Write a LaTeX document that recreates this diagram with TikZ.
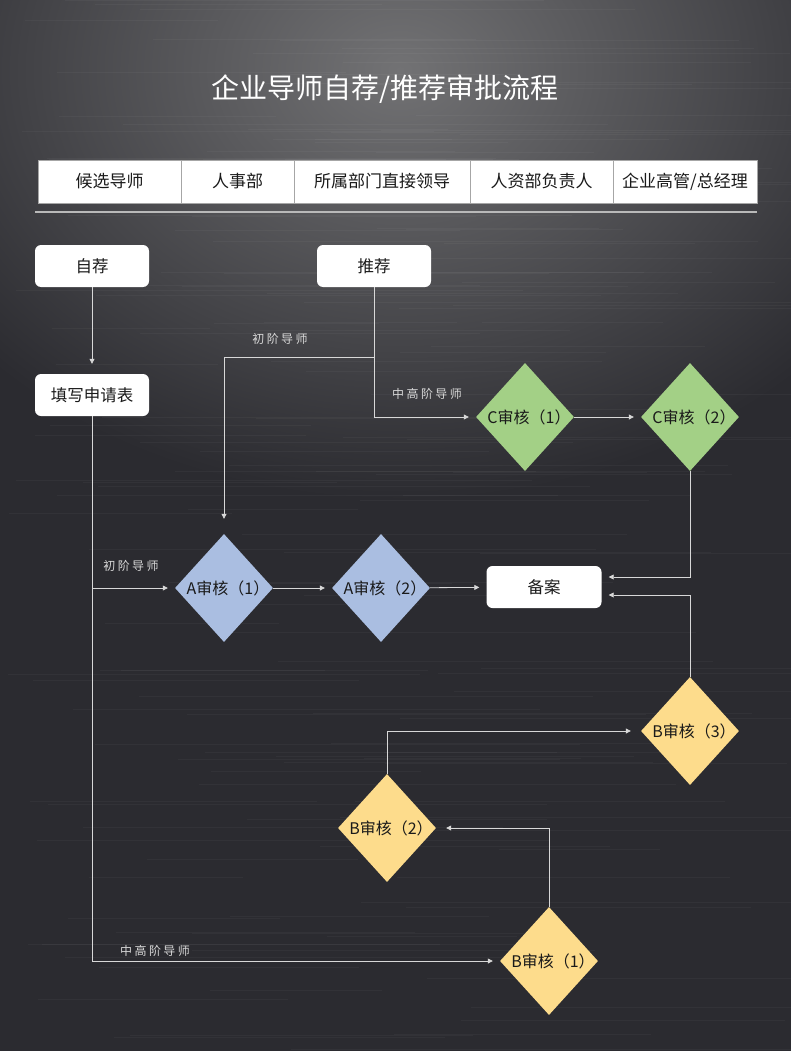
\documentclass[tikz,border=0pt]{standalone}
\usepackage{fontspec}
\setmainfont{Noto Sans CJK SC}
\usetikzlibrary{shapes.geometric,arrows.meta,calc}
\definecolor{bgdark}{HTML}{2B2B30}
\definecolor{bglight}{HTML}{727274}
\definecolor{lineclr}{HTML}{D8D8D8}
\definecolor{cgreen}{HTML}{A3D086}
\definecolor{ablue}{HTML}{AABEE1}
\definecolor{byellow}{HTML}{FDDC8C}
\definecolor{txt}{HTML}{1A1A1A}
\begin{document}
\begin{tikzpicture}[x=1pt,y=-1pt,
  wbox/.style={fill=white, rounded corners=6pt, minimum width=114pt, minimum height=42pt, inner sep=0pt, font=\fontsize{16.5}{18}\selectfont, text=txt},
  dia/.style={diamond, minimum width=98pt, minimum height=108pt, inner sep=-6pt, aspect=0.9, font=\fontsize{16}{18}\selectfont, text=txt, execute at begin node=\hspace*{8pt}},
  arr/.style={draw=lineclr, line width=0.8pt, -{Triangle[length=5pt,width=5pt]}, shorten >=7pt},
  lbl/.style={font=\fontsize{12}{14}\selectfont\addfontfeatures{LetterSpace=20}, text=lineclr},
  cell/.style={draw=gray!70, fill=white, minimum height=43pt, inner sep=0pt, font=\fontsize{17}{19}\selectfont, text=txt}]
\useasboundingbox (0,0) rectangle (791,1051);
% background
\fill[bgdark] (0,0) rectangle (791,1051);
\begin{scope}
\clip (0,0) rectangle (791,1051);
\shade[inner color=bglight, outer color=bgdark] (400,70) ellipse (560 and 430);
\pgfmathsetseed{7}
\foreach \i in {1,...,160}{
  \pgfmathsetmacro\yy{rnd*1051}
  \pgfmathsetmacro\xa{rnd*500}
  \pgfmathsetmacro\xb{\xa+150+rnd*400}
  \draw[white, opacity=0.035, line width=0.7pt] (\xa,\yy) -- (\xb,\yy);
}
\end{scope}
% title
\node[font=\fontsize{28}{31}\selectfont, text=white] (title) at (385,89) {企业导师自荐/推荐审批流程};
% header
\node[cell, minimum width=143pt] (h1) at (109.5,181.5) {候选导师};
\node[cell, minimum width=113pt] (h2) at (237.5,181.5) {人事部};
\node[cell, minimum width=176pt] (h3) at (382,181.5) {所属部门直接领导};
\node[cell, minimum width=143pt] (h4) at (541.5,181.5) {人资部负责人};
\node[cell, minimum width=144pt] (h5) at (685,181.5) {企业高管/总经理};
\draw[gray!55, line width=1.5pt] (35,212) -- (757,212);
% boxes
\node[wbox] (zijian) at (92,266) {自荐};
\node[wbox] (tuijian) at (374,266) {推荐};
\node[wbox] (tianxie) at (92,395) {填写申请表};
\node[wbox, minimum width=115pt] (beian) at (544,587) {备案};
% diamonds
\node[dia, fill=cgreen] (c1) at (525,417) {C审核（1）};
\node[dia, fill=cgreen] (c2) at (690,417) {C审核（2）};
\node[dia, fill=ablue] (a1) at (224,588) {A审核（1）};
\node[dia, fill=ablue] (a2) at (381,588) {A审核（2）};
\node[dia, fill=byellow] (b3) at (690,731) {B审核（3）};
\node[dia, fill=byellow] (b2) at (387,828) {B审核（2）};
\node[dia, fill=byellow] (b1) at (549,961) {B审核（1）};
% labels
\node[lbl] (l1) at (280,339) {初阶导师};
\node[lbl] (l2) at (427,394) {中高阶导师};
\node[lbl] (l3) at (131,566) {初阶导师};
\node[lbl] (l4) at (155,951) {中高阶导师};
% connectors
\coordinate (br1) at (374,357);
\coordinate (br2) at (92,588);
\draw[arr, shorten >=10pt] (zijian) -- (tianxie);
\draw[arr] (tuijian) |- (c1);
\draw[arr, shorten >=15pt] (br1) -| (a1);
\draw[arr] (c1) -- (c2);
\draw[arr] (c2) |- ([yshift=10pt]beian.east);
\draw[arr] (tianxie) |- (b1);
\draw[arr] (br2) -- (a1);
\draw[arr] (a1) -- (a2);
\draw[arr] (a2) -- (beian);
\draw[arr, shorten >=10pt] (b1) |- (b2);
\draw[arr, shorten >=10pt] (b2) |- (b3);
\draw[arr] (b3) |- ([yshift=-8pt]beian.east);
\end{tikzpicture}
\end{document}
